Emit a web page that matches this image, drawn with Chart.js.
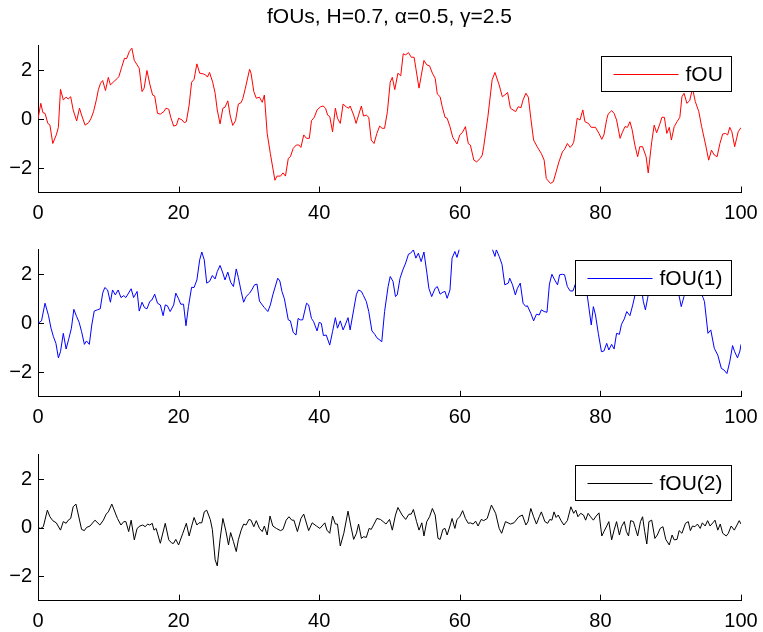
<!DOCTYPE html>
<html><head><meta charset="utf-8">
<script src="https://cdn.jsdelivr.net/npm/chart.js@4/dist/chart.umd.min.js"></script>
<style>
html,body{margin:0;padding:0;background:#fff;}
#wrap{position:relative;width:763px;height:632px;overflow:hidden;}
canvas{position:absolute;left:0;}
</style></head><body>
<div id="wrap">
<canvas id="c1" width="763" height="235" style="top:0px"></canvas>
<canvas id="c2" width="763" height="205" style="top:235px"></canvas>
<canvas id="c3" width="763" height="192" style="top:440px"></canvas>
</div>
<script>
const titleText = 'fOUs, H=0.7, \u03b1=0.5, \u03b3=2.5';
const seriesNames = ['fOU', 'fOU(1)', 'fOU(2)'];
const seriesColors = ['#ff0000', '#0000ff', '#000000'];
const xTicks = [0, 20, 40, 60, 80, 100];
const yTicks = [-2, 0, 2];

const fouX = [0,0.4,0.7,1.0,1.4,1.7,2.1,2.6,2.9,3.2,3.6,4.0,4.3,4.65,5.0,5.5,5.9,6.2,6.7,7.2,7.55,7.9,8.3,8.6,8.9,9.2,9.6,10.0,10.3,10.8,11.3,11.5,11.9,12.3,12.6,13.0,13.35,13.7,14.1,14.4,14.8,15.1,15.5,15.9,16.3,16.6,17.0,17.4,17.9,18.2,18.6,18.9,19.3,19.7,20.0,20.5,20.8,21.1,21.5,21.85,22.2,22.6,23.0,23.5,23.85,24.1,24.4,24.85,25.2,25.5,25.9,26.3,26.6,27.0,27.35,27.7,28.1,28.5,28.9,29.15,29.5,30.1,30.3,30.7,31.05,31.5,31.9,32.2,32.6,33.05,33.7,34.0,34.5,34.85,35.2,35.6,35.9,36.3,36.75,37.1,37.4,37.8,38.2,38.6,38.9,39.3,39.7,40.2,40.55,40.9,41.2,41.5,41.9,42.3,42.6,43.0,43.4,43.9,44.2,44.4,44.9,45.25,45.6,46.0,46.3,46.7,47.05,47.4,47.8,48.2,48.6,48.95,49.3,49.7,50.1,50.4,50.75,51.2,51.6,51.95,52.3,52.7,53.1,53.5,54.2,54.9,55.3,55.7,56.1,56.5,56.8,57.2,57.5,57.9,58.2,58.6,59.0,59.6,60.0,60.35,60.8,61.2,61.5,62.0,62.4,62.9,63.2,63.4,64.0,64.6,65.0,65.6,66.05,66.4,66.8,67.2,67.95,68.3,68.7,69.0,69.4,69.75,70.1,70.5,71.0,71.6,72.0,72.3,72.9,73.3,73.7,74.1,74.6,74.9,75.3,75.7,76.0,76.2,76.5,76.7,77.1,77.5,77.8,78.3,78.7,79.3,79.8,80.2,80.5,80.9,81.1,81.6,81.95,82.3,82.8,83.1,83.5,83.85,84.2,84.5,84.9,85.3,85.6,86.0,86.5,86.8,87.3,87.65,88.0,88.4,88.75,89.1,89.45,89.8,90.1,90.5,90.9,91.3,91.6,91.9,92.3,92.7,93.1,93.5,94.0,94.4,95.0,95.4,95.8,96.2,96.6,97.0,97.4,97.8,98.1,98.4,98.7,99.1,99.6,100];
const fouY = [0,0.64,0.26,0.23,-0.18,-0.25,-1.0,-0.65,-0.34,1.21,0.78,0.89,0.82,0.91,0.37,-0.08,0.44,0.16,-0.25,-0.15,0.03,0.3,0.78,1.21,1.46,1.57,1.16,1.7,1.39,1.53,1.66,1.73,2.11,2.48,2.46,2.76,2.89,2.39,2.21,2.07,1.12,1.26,1.98,1.43,0.98,0.94,0.23,0.2,0.3,0.44,0.4,0.05,-0.29,-0.25,0.03,-0.04,-0.15,-0.11,0.57,1.5,1.62,2.25,1.87,1.84,1.8,1.71,1.9,1.5,1.05,0.37,-0.2,0.44,0.48,0.74,0.12,-0.26,-0.07,0.61,0.67,0.85,1.26,2.03,1.87,1.12,0.85,0.89,0.68,0.98,-0.59,-1.41,-2.5,-2.33,-2.33,-2.2,-2.33,-1.61,-1.54,-1.2,-1.06,-1.06,-1.16,-0.65,-0.79,-0.79,-0.07,0.07,0.37,0.5,0.53,0.44,0.16,0.1,-0.52,0.44,0.03,-0.18,0.61,0.48,0.44,0.53,0.16,-0.18,0.16,0.53,0.12,0.16,0.07,-0.86,-1.0,-0.59,-0.29,-0.38,-0.38,0.3,1.5,1.7,1.2,1.87,1.76,2.66,2.62,2.71,2.52,2.52,1.26,2.39,2.21,2.17,1.87,1.66,1.02,0.91,0.5,0.07,0.03,-0.31,-0.75,-1.02,-0.65,-0.56,-0.31,-1.0,-1.06,-1.68,-1.75,-1.61,-1.47,-1.13,0.1,1.6,1.9,1.39,0.91,0.98,1.08,0.44,0.3,0.5,0.46,0.78,1.05,0.89,0.03,-0.86,-1.13,-1.41,-1.68,-2.43,-2.63,-2.56,-2.16,-1.75,-1.34,-1.24,-1.0,-1.16,-1.06,-0.95,-0.38,0.03,-0.04,0.37,-0.11,-0.18,-0.34,-0.34,-0.59,-0.83,-0.65,-0.01,0.2,0.34,0.23,-0.04,-0.79,-0.56,-0.31,-0.34,-0.11,-0.42,-1.06,-1.54,-1.13,-1.13,-1.54,-2.2,-0.93,-0.25,-0.56,-0.25,0.07,0.07,-0.59,-0.34,-0.86,-0.31,-0.11,0.07,0.91,1.05,0.64,0.75,1.25,0.71,0.3,-0.31,-1.1,-1.68,-1.27,-1.47,-1.54,-1.0,-0.61,-0.59,-0.65,-0.34,-0.52,-1.13,-0.52,-0.35];

const fou1X = [0,0.5,1.0,1.5,1.85,2.2,2.55,2.9,3.2,3.6,4.0,4.4,4.75,5.1,5.5,5.85,6.2,6.6,6.9,7.3,7.65,8.0,8.45,8.85,9.2,9.5,9.9,10.3,10.6,11.0,11.4,11.8,12.2,12.5,13.25,13.6,14.1,14.4,14.8,15.15,15.5,15.9,16.2,16.6,17.0,17.4,17.8,18.1,18.4,18.8,19.3,19.6,20.0,20.3,20.7,21.05,21.4,21.85,22.2,22.6,23.0,23.3,23.65,24.0,24.4,24.8,25.2,25.5,25.9,26.3,26.6,27.0,27.4,27.8,28.2,28.5,28.9,29.25,29.6,30.1,30.4,30.8,31.15,31.5,31.9,32.2,32.7,33.05,33.4,34.1,34.4,34.7,35.05,35.6,35.9,36.3,36.7,37.0,37.3,37.65,38.2,38.5,38.9,39.2,39.7,40.0,40.3,40.6,41.0,41.5,41.9,42.3,42.6,43.0,43.4,43.7,44.1,44.4,44.9,45.3,45.6,46.0,46.3,46.7,47.05,47.5,47.9,48.2,48.9,49.3,49.8,50.1,50.5,50.85,51.1,51.5,51.9,52.3,52.7,53.0,53.4,53.75,54.1,54.5,54.9,55.3,55.6,56.0,56.5,56.8,57.2,57.6,57.9,58.2,58.6,58.9,59.3,59.6,59.9,60.4,61.0,61.6,62.2,62.8,63.4,64.0,64.6,65.0,65.2,65.6,66.0,66.4,66.9,67.1,67.5,67.9,68.2,68.6,69.0,69.4,69.6,70.1,70.5,70.9,71.3,71.6,72.0,72.4,72.75,73.1,73.5,73.9,74.2,74.6,74.9,75.3,75.7,76.1,76.4,76.8,77.3,77.8,78.1,78.7,79.0,79.3,79.7,80.15,80.5,80.9,81.2,81.6,81.95,82.3,82.7,83.0,83.4,83.75,84.2,84.6,84.95,85.3,85.8,86.1,86.4,86.7,87.0,87.4,87.8,88.3,89.0,89.8,90.5,91.0,91.5,91.9,92.3,92.7,93.2,93.8,94.2,94.6,94.8,95.3,95.7,96.2,96.7,97.2,97.6,98.0,98.4,98.8,99.1,99.5,99.85,100];
const fou1Y = [0,0.1,0.82,0.31,-0.2,-0.55,-0.82,-1.41,-1.16,-0.41,-1.05,-0.61,-0.2,0.57,0.27,0.04,-0.34,-0.86,-0.72,-0.86,-0.07,0.5,0.55,0.59,1.23,1.46,1.36,0.86,1.36,1.16,1.36,1.05,1.13,1.05,1.41,1.05,1.3,0.5,0.86,0.64,0.59,0.89,0.95,1.19,0.82,0.75,0.31,0.75,0.72,0.48,0.75,1.23,1.0,0.78,0.78,-0.1,0.68,1.47,1.46,1.77,2.59,2.91,2.59,1.64,1.71,1.95,1.81,2.11,2.36,2.05,1.77,2.09,1.68,1.5,2.22,1.87,1.3,0.86,1.09,1.23,1.36,1.57,1.6,0.91,0.75,0.64,0.48,0.75,1.16,1.84,1.73,1.3,1.0,0.14,0.1,-0.37,-0.48,0.2,0.14,0.14,0.82,0.75,0.2,0.07,-0.31,0.04,0,-0.5,-0.48,-0.89,-0.34,0.23,-0.2,0.1,-0.27,-0.07,0.23,-0.27,0.55,1.19,1.36,1.3,1.13,0.89,0.48,-0.31,-0.45,-0.59,-0.75,0.48,1.5,1.91,1.71,1.09,1.16,1.84,2.18,2.46,2.82,2.86,3.0,2.66,2.86,2.52,2.91,2.09,1.43,1.09,1.43,1.5,1.19,1.27,1.3,1.02,1.36,2.66,2.93,2.69,3.0,3.5,3.9,3.7,4.1,3.8,4.0,3.5,3.05,2.73,3.0,2.73,2.41,1.57,1.64,1.84,1.57,1.16,1.43,1.64,0.82,0.68,0.72,0.41,0.1,0.37,0.34,0.55,0.48,0.45,1.6,2.0,1.77,1.57,1.98,2.0,1.98,1.5,1.32,1.32,1.57,1.9,2.2,1.6,1.2,-0.07,0.68,0.34,-0.41,-1.16,-1.13,-0.82,-1.09,-0.86,-1.05,-0.41,-0.45,-0.04,0.18,0.48,0.31,0.75,1.19,1.7,1.5,0.9,0.55,1.0,1.5,1.15,1.25,1.8,2.1,1.7,1.9,1.4,0.68,1.1,1.6,1.15,1.5,1.8,1.3,1.05,0.89,-0.41,-0.27,-1.02,-1.3,-1.84,-1.91,-2.05,-1.57,-0.91,-1.16,-1.41,-1.13,-0.86];

const fou2X = [0,0.4,0.76,1.33,1.7,2.1,2.6,3.2,3.6,4.0,4.3,4.65,5.0,5.4,6.2,6.6,6.9,7.4,8.1,8.8,9.3,9.7,10.0,10.5,11.3,11.8,12.2,12.5,12.9,13.25,13.7,14.1,14.5,14.9,15.25,15.6,15.9,16.25,16.5,16.8,17.4,18.1,18.6,19.05,19.3,19.6,20.0,20.6,21.1,21.5,21.9,22.2,22.6,22.9,23.3,23.65,24.0,24.5,24.8,25.2,25.5,25.9,26.3,26.7,27.1,27.4,27.8,28.2,28.5,28.9,29.25,29.6,30.0,30.3,30.7,31.05,31.5,31.9,32.2,32.6,33.0,33.4,33.9,34.5,34.85,35.3,35.7,36.1,36.4,36.9,37.4,37.8,38.5,39.0,39.6,40.1,40.4,40.8,41.1,41.5,41.9,42.3,42.6,43.0,43.5,44.1,44.5,44.9,45.3,45.6,46.0,46.3,46.7,47.1,47.4,47.8,48.2,48.7,49.1,49.5,50.0,50.4,50.85,51.2,51.8,52.3,52.75,53.1,53.4,53.85,54.2,54.6,54.9,55.3,55.7,56.1,56.5,56.9,57.2,57.6,57.9,58.2,58.6,58.9,59.3,59.6,60.0,60.4,60.8,61.2,61.5,61.9,62.25,62.6,63.05,63.4,63.9,64.5,65.1,65.6,65.95,66.5,67.2,67.7,68.4,68.9,69.4,69.7,70.1,70.5,70.9,71.3,71.6,72.1,72.5,72.8,73.1,73.4,73.7,74.0,74.4,74.8,75.3,75.8,76.2,76.5,76.8,77.2,77.6,77.9,78.25,78.6,79.0,79.4,79.8,80.2,80.5,80.9,81.2,81.6,81.95,82.3,82.7,83.0,83.4,83.7,84.0,84.3,84.7,84.95,85.3,85.7,86.0,86.3,86.6,86.9,87.3,87.75,88.1,88.5,88.9,89.3,89.8,90.2,90.5,90.9,91.2,91.6,92.1,92.5,92.8,93.1,93.45,93.8,94.2,94.5,94.9,95.25,95.6,96.0,96.3,96.7,97.05,97.4,97.9,98.2,98.6,99.05,99.75,100];
const fou2Y = [0,-0.03,0.04,0.72,0.45,0.29,0.2,-0.1,0.25,0.18,0.31,0.38,0.86,0.97,-0.07,-0.12,0.01,0.07,0.31,0.11,0.31,0.56,0.65,0.97,0.38,0.11,0.25,0.25,-0.16,0.31,-0.5,-0.03,0.07,0.11,0.04,0.15,0.11,0.18,-0.1,-0.03,-0.64,0.18,-0.5,-0.64,-0.64,-0.48,-0.71,-0.23,0.18,-0.34,0.11,0.42,0.11,0.2,0.2,0.65,0.72,0.34,-0.07,-1.32,-1.57,-0.48,0.38,-0.1,-0.71,-0.2,-0.57,-0.98,-0.5,-0.1,0.15,0.11,0.34,0.31,0.04,0.29,-0.03,-0.16,0.07,-0.3,0.48,0.07,-0.03,-0.12,-0.07,0.31,0.45,0.31,0.31,-0.16,0.38,0.56,-0.12,0.2,0.07,-0.03,0.07,0.2,-0.1,-0.23,0.48,0.15,0.15,-0.75,-0.23,0.68,0.07,-0.48,-0.23,0.15,-0.44,-0.37,-0.4,-0.03,-0.07,0.15,0.38,0.34,0.25,0.15,0.34,-0.1,0.52,0.83,0.52,0.34,0.55,0.56,0.75,0.25,-0.1,0.2,-0.34,0.25,0.45,0.79,0.52,-0.44,-0.48,-0.07,-0.03,-0.3,0.07,0.38,-0.03,0.34,0.45,0.7,0.38,0.18,0.2,0.15,0.27,0.07,0.34,0.29,0.38,0.93,0.59,-0.03,-0.23,0.25,0.15,0.2,0.45,0.52,0.11,0.25,0.79,0.45,0.15,0.45,0.65,0.25,0.18,0.34,0.31,0.65,0.42,0.52,0.29,0.11,0.29,0.86,0.59,0.72,0.45,0.59,0.52,0.31,0.59,0.45,0.31,0.48,0.61,-0.34,-0.16,0.07,0.25,-0.5,-0.1,0.25,-0.3,0.04,0.25,-0.16,-0.34,0.29,0.25,0.01,-0.34,0.25,0.45,-0.16,-0.67,0.25,0.31,-0.44,-0.3,-0.03,0.04,-0.48,-0.71,-0.3,-0.5,-0.48,-0.12,-0.23,0.18,0.25,-0.12,0.07,0.04,0.15,-0.03,0.2,0.07,0.29,0.07,0.2,0.31,-0.1,0.15,-0.23,-0.34,-0.23,0.07,-0.1,0.29,0.15];

const FONT = '"Liberation Sans", Arial, Helvetica, sans-serif';
const TICK_SIZE = 20, LEG_SIZE = 21, TITLE_SIZE = 21;

const matlabPlugin = {
  id: 'matlabAxes',
  afterDraw(chart, args, opts) {
    const ctx = chart.ctx, a = chart.chartArea, xs = chart.scales.x, ys = chart.scales.y;
    ctx.save();
    ctx.strokeStyle = '#000'; ctx.lineWidth = 1;
    ctx.beginPath();
    xTicks.forEach(v => { const p = Math.round(xs.getPixelForValue(v)) + 0.5; ctx.moveTo(p, a.bottom); ctx.lineTo(p, a.bottom - 6); });
    yTicks.forEach(v => { const p = Math.round(ys.getPixelForValue(v)) + 0.5; ctx.moveTo(a.left, p); ctx.lineTo(a.left + 6, p); });
    ctx.stroke();
    if (opts.legend) {
      ctx.font = LEG_SIZE + 'px ' + FONT;
      const tw = ctx.measureText(opts.legend.label).width;
      const bw = Math.round(12 + 65 + 7 + tw + 9), bh = 35;
      const bx = Math.round(a.right - 10 - bw) + 0.5, by = Math.round(a.top + 10) + 0.5;
      ctx.fillStyle = '#fff'; ctx.fillRect(bx, by, bw, bh);
      ctx.strokeStyle = '#000'; ctx.strokeRect(bx, by, bw, bh);
      const cy = Math.round(by + bh / 2) + 0.5;
      ctx.strokeStyle = opts.legend.color; ctx.beginPath(); ctx.moveTo(bx + 12, cy); ctx.lineTo(bx + 77, cy); ctx.stroke();
      ctx.fillStyle = '#000'; ctx.textBaseline = 'middle'; ctx.textAlign = 'left';
      ctx.fillText(opts.legend.label, bx + 84, cy + 1);
    }
    if (opts.title) {
      ctx.font = TITLE_SIZE + 'px ' + FONT;
      ctx.fillStyle = '#000'; ctx.textBaseline = 'middle'; ctx.textAlign = 'center';
      ctx.fillText(opts.title, (a.left + a.right) / 2, 17);
    }
    ctx.restore();
  }
};

function makeChart(id, xs, ys, idx, padTop, xAxisH, withTitle) {
  const pts = xs.map((x, i) => ({ x: x, y: ys[i] }));
  return new Chart(document.getElementById(id), {
    type: 'line',
    data: { datasets: [{ label: seriesNames[idx], data: pts, borderColor: seriesColors[idx], borderWidth: 1, pointRadius: 0, tension: 0, fill: false }] },
    options: {
      responsive: false, animation: false, devicePixelRatio: 1,
      layout: { padding: { left: 0, right: 22, top: padTop, bottom: 0 } },
      plugins: {
        legend: { display: false }, tooltip: { enabled: false },
        matlabAxes: { legend: { label: seriesNames[idx], color: seriesColors[idx] }, title: withTitle ? titleText : null }
      },
      scales: {
        x: {
          type: 'linear', min: 0, max: 100,
          afterBuildTicks: s => { s.ticks = xTicks.map(v => ({ value: v })); },
          afterFit: s => { s.height = xAxisH; s.paddingLeft = 0; s.paddingRight = 0; },
          grid: { display: false, drawTicks: false },
          border: { display: true, color: '#000', width: 1 },
          ticks: { color: '#000', font: { family: FONT, size: TICK_SIZE }, padding: 9, maxRotation: 0, autoSkip: false, callback: v => String(v) }
        },
        y: {
          type: 'linear', min: -3, max: 3,
          afterBuildTicks: s => { s.ticks = yTicks.map(v => ({ value: v })); },
          afterFit: s => { s.width = 38; s.paddingTop = 0; s.paddingBottom = 0; },
          grid: { display: false, drawTicks: false },
          border: { display: true, color: '#000', width: 1 },
          ticks: { color: '#000', font: { family: FONT, size: TICK_SIZE }, padding: 6, callback: v => (v < 0 ? '\u2212' + Math.abs(v) : String(v)) }
        }
      }
    },
    plugins: [matlabPlugin]
  });
}

makeChart('c1', fouX, fouY, 0, 45.5, 42.5, true);
makeChart('c2', fou1X, fou1Y, 1, 14.8, 43.2, false);
makeChart('c3', fou2X, fou2Y, 2, 14.7, 31.3, false);
</script>
</body></html>
